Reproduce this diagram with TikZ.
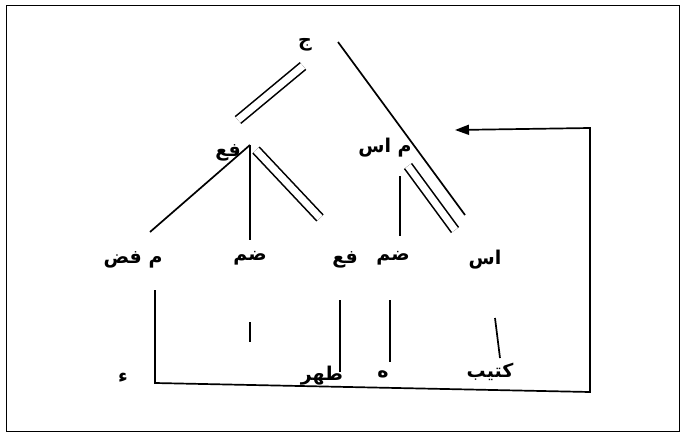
\documentclass[tikz,border=0pt]{standalone}
\usepackage{fontspec}
\newfontfamily\arabicfont[Script=Arabic]{DejaVu Sans Bold}
\TeXXeTstate=1
\usetikzlibrary{arrows.meta}
\begin{document}
\begin{tikzpicture}[x=1pt,y=-1pt,
  lbl/.style={font=\arabicfont\fontsize{19}{21}\selectfont, inner sep=1pt},
  ln/.style={line width=1.7pt, black},
  dbl/.style={double, double distance=7pt, line width=1.6pt, black}]
\useasboundingbox (0,0) rectangle (684,436);
\draw[line width=1pt] (6,6) rectangle (679,431);
% nodes
\node[lbl] (S) at (305,45) {\beginR ج\endR};
\node[lbl] (VP) at (228,153) {\beginR فع\endR};
\node[lbl] (NP) at (385,148) {\beginR م اس\endR};
\node[lbl] (L1) at (133,260) {\beginR م فض\endR};
\node[lbl] (L2) at (250,258) {\beginR ضم\endR};
\node[lbl] (L3) at (345,260) {\beginR فع\endR};
\node[lbl] (L4) at (393,258) {\beginR ضم\endR};
\node[lbl] (L5) at (485,260) {\beginR اس\endR};
\node[lbl] (W0) at (123,378) {\beginR ء\endR};
\node[lbl] (W1) at (322,376) {\beginR طهر\endR};
\node[lbl] (W2) at (383,374) {\beginR ه\endR};
\node[lbl] (W3) at (490,372) {\beginR كتيب\endR};
% coordinates
\coordinate (sA) at (303,66);
\coordinate (sB) at (238,120);
\coordinate (sC) at (338,42);
\coordinate (sD) at (465,215);
\coordinate (vA) at (250,145);
\coordinate (vB) at (150,232);
\coordinate (vC) at (250,240);
\coordinate (vD) at (256,150);
\coordinate (vE) at (320,218);
\coordinate (nA) at (408,166);
\coordinate (nB) at (455,230);
\coordinate (nC) at (400,176);
\coordinate (nD) at (400,236);
\coordinate (a1) at (155,290);
\coordinate (a2) at (155,383);
\coordinate (b1) at (250,322);
\coordinate (b2) at (250,342);
\coordinate (c1) at (340,300);
\coordinate (c2) at (340,372);
\coordinate (d1) at (390,300);
\coordinate (d2) at (390,362);
\coordinate (e1) at (495,318);
\coordinate (e2) at (500,358);
\coordinate (r1) at (590,392);
\coordinate (r2) at (590,128);
\coordinate (r3) at (455,130);
% edges
\draw[dbl] (sA) -- (sB);
\draw[ln] (sC) -- (sD);
\draw[ln] (vA) -- (vB);
\draw[ln] (vA) -- (vC);
\draw[dbl] (vD) -- (vE);
\draw[dbl] (nA) -- (nB);
\draw[ln] (nC) -- (nD);
\draw[ln] (b1) -- (b2);
\draw[ln] (c1) -- (c2);
\draw[ln] (d1) -- (d2);
\draw[ln] (e1) -- (e2);
\draw[ln, -{Triangle[length=14pt,width=10pt]}] (a1) -- (a2) -- (r1) -- (r2) -- (r3);
\end{tikzpicture}
\end{document}
